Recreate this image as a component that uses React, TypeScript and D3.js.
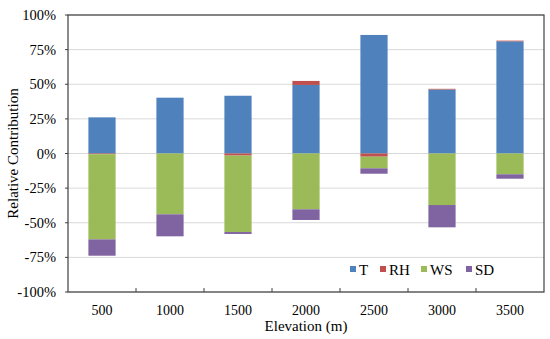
import * as d3 from "d3";

const elevations = ["500", "1000", "1500", "2000", "2500", "3000", "3500"];
const seriesNames = ["T", "RH", "WS", "SD"];
const tValues = [26.1, 40.3, 41.7, 49.5, 85.6, 46.2, 81.0];
const rhValues = [-0.5, 0, -1.5, 2.9, -2.3, 0.5, 0.5];
const wsValues = [-61.5, -43.9, -55.2, -40.3, -8.4, -37.2, -15.0];
const sdValues = [-11.8, -15.9, -1.4, -7.7, -3.9, -16.1, -3.2];
const yTicks = [100, 75, 50, 25, 0, -25, -50, -75, -100];

const colors: Record<string, string> = {
  T: "#4f81bd",
  RH: "#c0504d",
  WS: "#9bbb59",
  SD: "#8064a2",
};

const valuesBySeries: Record<string, number[]> = {
  T: tValues,
  RH: rhValues,
  WS: wsValues,
  SD: sdValues,
};

export default function App() {
  const width = 550;
  const height = 339;
  const m = { top: 15, right: 6, bottom: 47, left: 68 };
  const font = "'Liberation Serif', 'Times New Roman', serif";

  const x = d3
    .scaleBand()
    .domain(elevations)
    .range([m.left, width - m.right])
    .paddingInner(0.6)
    .paddingOuter(0.3);
  const bandStep = x.step();

  const y = d3
    .scaleLinear()
    .domain([-100, 100])
    .range([height - m.bottom, m.top]);

  // stack positives upward and negatives downward, series in order
  const rects: { key: string; cat: string; y0: number; y1: number }[] = [];
  elevations.forEach((cat, i) => {
    let pos = 0;
    let neg = 0;
    seriesNames.forEach((s) => {
      const v = valuesBySeries[s][i];
      if (v >= 0) {
        rects.push({ key: s, cat, y0: pos, y1: pos + v });
        pos += v;
      } else {
        rects.push({ key: s, cat, y0: neg + v, y1: neg });
        neg += v;
      }
    });
  });

  const left = m.left;
  const right = width - m.right;
  const top = m.top;
  const bottom = height - m.bottom;

  const legendItems = [
    { key: "T", x: 350 },
    { key: "RH", x: 380 },
    { key: "WS", x: 421 },
    { key: "SD", x: 466 },
  ];

  const txt = { fontFamily: font };

  return (
    <svg
      width={width}
      height={height}
      style={{ position: "absolute", left: 0, top: 0, background: "#fff" }}
    >
      <g>
        {yTicks.map((t) => (
          <line
            key={`g${t}`}
            x1={left}
            x2={right}
            y1={y(t)}
            y2={y(t)}
            stroke="#d9d9d9"
            strokeWidth={1}
          />
        ))}
      </g>
      <g>
        {rects.map((r, i) => (
          <rect
            key={i}
            x={x(r.cat)}
            width={x.bandwidth()}
            y={y(r.y1)}
            height={Math.max(0, y(r.y0) - y(r.y1))}
            fill={colors[r.key]}
          />
        ))}
      </g>
      <rect
        x={left}
        y={top}
        width={right - left}
        height={bottom - top}
        fill="none"
        stroke="#404040"
        strokeWidth={1.2}
      />
      <g>
        {yTicks.map((t) => (
          <g key={`t${t}`}>
            <line x1={left - 3} x2={left} y1={y(t)} y2={y(t)} stroke="#404040" />
            <text
              x={56}
              y={y(t)}
              dy="0.35em"
              textAnchor="end"
              fontSize={14.5}
              fill="#000"
              style={txt}
            >
              {`${t}%`}
            </text>
          </g>
        ))}
      </g>
      <g>
        {elevations.slice(1).map((c) => (
          <line
            key={`xt${c}`}
            x1={(x(c) ?? 0) - (bandStep - x.bandwidth()) / 2}
            x2={(x(c) ?? 0) - (bandStep - x.bandwidth()) / 2}
            y1={bottom}
            y2={bottom - 4}
            stroke="#404040"
          />
        ))}
        {elevations.map((c) => (
          <text
            key={`xl${c}`}
            x={(x(c) ?? 0) + x.bandwidth() / 2}
            y={bottom + 23}
            textAnchor="middle"
            fontSize={14}
            fill="#000"
            style={txt}
          >
            {c}
          </text>
        ))}
      </g>
      <text
        x={(left + right) / 2}
        y={bottom + 39}
        textAnchor="middle"
        fontSize={15}
        fill="#000"
        style={txt}
      >
        Elevation (m)
      </text>
      <text
        transform={`translate(18,${(top + bottom) / 2}) rotate(-90)`}
        textAnchor="middle"
        fontSize={15}
        fill="#000"
        style={txt}
      >
        Relative Contribution
      </text>
      <g>
        {legendItems.map((it) => (
          <g key={it.key}>
            <rect x={it.x} y={266} width={6} height={6} fill={colors[it.key]} />
            <text x={it.x + 9} y={275} fontSize={15} fill="#000" style={txt}>
              {it.key}
            </text>
          </g>
        ))}
      </g>
    </svg>
  );
}
